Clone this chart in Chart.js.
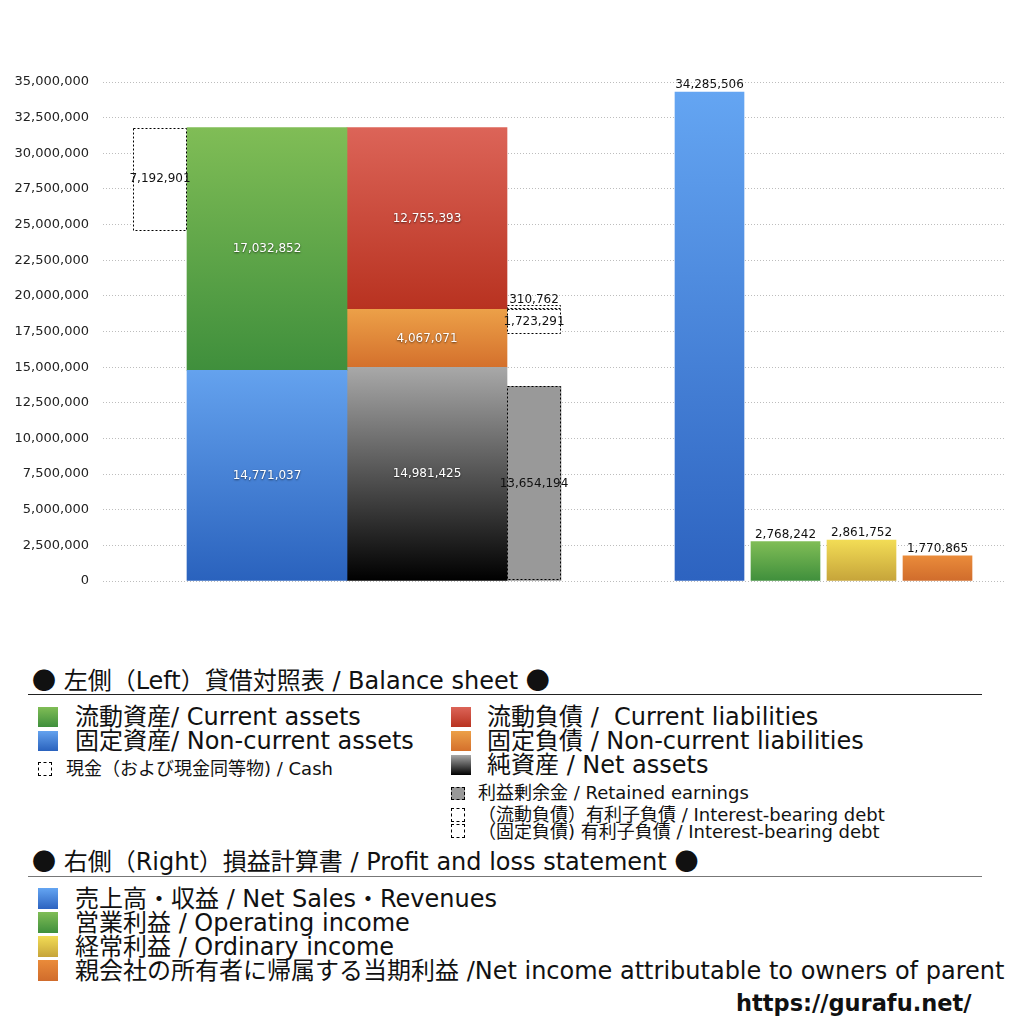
<!DOCTYPE html>
<html>
<head>
<meta charset="utf-8">
<script src="https://cdn.jsdelivr.net/npm/chart.js@4.4.1/dist/chart.umd.min.js"></script>
<style>
body{margin:0;background:#fff;}
#wrap{position:relative;width:1024px;height:1024px;overflow:hidden;font-family:"DejaVu Sans","Noto Sans CJK JP",sans-serif;color:#111;}
#c{position:absolute;left:0;top:0;}
.t{position:absolute;white-space:nowrap;}
.sq{position:absolute;}
.cj{font-family:"Noto Sans CJK JP";}
.big{font-size:24px;line-height:24px;height:24px;}
.small{font-size:18px;line-height:18px;height:18px;}
.ttl{font-size:24px;line-height:26px;height:26px;}
.rule{position:absolute;left:28px;width:954px;height:0;}
.dot{border:1px dashed #000;box-sizing:border-box;}
</style>
</head>
<body>
<div id="wrap">
<canvas id="c" width="1024" height="640"></canvas>

<div class="t ttl" style="left:32px;top:666px;"><span class="cj">●</span> 左側（Left）貸借対照表 / Balance sheet <span class="cj">●</span></div>
<div class="rule" style="top:694px;border-top:1px solid #222;"></div>

<div class="sq" style="left:38px;top:707px;width:20px;height:20px;background:linear-gradient(#80bd56,#3f8f3c);"></div>
<div class="t big" style="left:75px;top:705px;">流動資産/ Current assets</div>
<div class="sq" style="left:38px;top:731px;width:20px;height:20px;background:linear-gradient(#64a2ee,#2a62bd);"></div>
<div class="t big" style="left:75px;top:729px;">固定資産/ Non-current assets</div>
<div class="sq dot" style="left:38px;top:762px;width:14px;height:14px;"></div>
<div class="t small" style="left:66px;top:760px;">現金（および現金同等物) / Cash</div>

<div class="sq" style="left:451px;top:707px;width:20px;height:20px;background:linear-gradient(#dc6458,#b83220);"></div>
<div class="t big" style="left:487px;top:705px;">流動負債 /&nbsp; Current liabilities</div>
<div class="sq" style="left:451px;top:731px;width:20px;height:20px;background:linear-gradient(#eca048,#d4702c);"></div>
<div class="t big" style="left:487px;top:729px;">固定負債 / Non-current liabilities</div>
<div class="sq" style="left:451px;top:755px;width:20px;height:20px;background:linear-gradient(#a8a8a8,#000);"></div>
<div class="t big" style="left:487px;top:753px;">純資産 / Net assets</div>
<div class="sq dot" style="left:451px;top:787px;width:14px;height:13px;background:#999;"></div>
<div class="t small" style="left:478px;top:784px;">利益剰余金 / Retained earnings</div>
<div class="sq dot" style="left:451px;top:808px;width:14px;height:14px;"></div>
<div class="t small" style="left:478px;top:806px;">（流動負債）有利子負債 / Interest-bearing debt</div>
<div class="sq dot" style="left:451px;top:824px;width:14px;height:14px;"></div>
<div class="t small" style="left:478px;top:823px;">（固定負債) 有利子負債 / Interest-bearing debt</div>

<div class="t ttl" style="left:32px;top:847px;"><span class="cj">●</span> 右側（Right）損益計算書 / Profit and loss statement <span class="cj">●</span></div>
<div class="rule" style="top:876px;border-top:1px solid #777;"></div>

<div class="sq" style="left:38px;top:888px;width:20px;height:21px;background:linear-gradient(#64a5f2,#2d63c0);"></div>
<div class="t big" style="left:75px;top:887px;">売上高・収益 / Net Sales・Revenues</div>
<div class="sq" style="left:38px;top:912px;width:20px;height:21px;background:linear-gradient(#80bd56,#3f8f3c);"></div>
<div class="t big" style="left:75px;top:911px;">営業利益 / Operating income</div>
<div class="sq" style="left:38px;top:936px;width:20px;height:21px;background:linear-gradient(#f2dc55,#c6a43a);"></div>
<div class="t big" style="left:75px;top:935px;">経常利益 / Ordinary income</div>
<div class="sq" style="left:38px;top:960px;width:20px;height:21px;background:linear-gradient(#ea8b3a,#d06c2c);"></div>
<div class="t big" style="left:75px;top:959px;">親会社の所有者に帰属する当期利益 /Net income attributable to owners of parent</div>

<div class="t" style="left:736px;top:990px;font-size:22.5px;font-weight:bold;line-height:26px;">https://gurafu.net/</div>
</div>

<script>
// 左側 貸借対照表
var assetLabels = ['固定資産', '流動資産'];
var assetValues = [14771037, 17032852];
var liabLabels = ['純資産', '固定負債', '流動負債'];
var liabValues = [14981425, 4067071, 12755393];
var cashValue = 7192901;
var retainedValue = 13654194;
var debtLabels = ['（固定負債) 有利子負債', '（流動負債）有利子負債'];
var debtValues = [1723291, 310762];

// 右側 損益計算書
var plLabels = ['売上高・収益', '営業利益', '経常利益', '親会社の所有者に帰属する当期利益'];
var plValues = [34285506, 2768242, 2861752, 1770865];

var yMin = 0, yMax = 35000000, yStep = 2500000;

// column slots on the hidden linear x scale (c = centre, w = bar width px)
var slot = {
  cash: {c: 57, w: 54},
  assets: {c: 164, w: 160},
  liab: {c: 324, w: 160},
  retained: {c: 431, w: 54},
  pl: [{c: 606.5, w: 69}, {c: 682.5, w: 69}, {c: 758.5, w: 69}, {c: 834.5, w: 69}]
};

var colors = {
  ncAssets: ['#64a2ee', '#2a62bd'],
  cAssets: ['#80bd56', '#3f8f3c'],
  netAssets: ['#a8a8a8', '#000000'],
  ncLiab: ['#eca048', '#d4702c'],
  cLiab: ['#dc6458', '#b83220'],
  pl: [['#64a5f2', '#2d63c0'], ['#80bd56', '#3f8f3c'], ['#f2dc55', '#c6a43a'], ['#ea8b3a', '#d06c2c']]
};

var numFont = '"DejaVu Sans", "Noto Sans"';

function grad(pair) {
  return function(c) {
    var chart = c.chart;
    if (!chart.chartArea || !c.raw) return pair[1];
    var y = chart.scales.y;
    var g = chart.ctx.createLinearGradient(0, y.getPixelForValue(c.raw.y[1]), 0, y.getPixelForValue(c.raw.y[0]));
    g.addColorStop(0, pair[0]);
    g.addColorStop(1, pair[1]);
    return g;
  };
}

function bar(label, s, lo, hi, fill, extra) {
  var d = {
    label: label,
    data: [{x: s.c, y: [lo, hi]}],
    barThickness: s.w,
    backgroundColor: fill,
    borderWidth: 0,
    value: hi - lo,
    labelMode: 'in'
  };
  return Object.assign(d, extra || {});
}

var datasets = [];
var assetsTotal = assetValues[0] + assetValues[1];
datasets.push(bar(assetLabels[0], slot.assets, 0, assetValues[0], grad(colors.ncAssets)));
datasets.push(bar(assetLabels[1], slot.assets, assetValues[0], assetsTotal, grad(colors.cAssets)));
datasets.push(bar('現金', slot.cash, assetsTotal - cashValue, assetsTotal, '#ffffff', {dotted: true, labelMode: 'dark'}));

var lb = 0;
var liabColors = [colors.netAssets, colors.ncLiab, colors.cLiab];
var liabBase = [];
liabValues.forEach(function(v, i) {
  liabBase.push(lb);
  datasets.push(bar(liabLabels[i], slot.liab, lb, lb + v, grad(liabColors[i])));
  lb += v;
});
datasets.push(bar('利益剰余金', slot.retained, 0, retainedValue, '#999999', {dotted: true, labelMode: 'dark'}));
// interest-bearing debt boxes sit on the border between fixed and current liabilities
var border = liabBase[2];
datasets.push(bar(debtLabels[0], slot.retained, border - debtValues[0], border, '#ffffff', {dotted: true, labelMode: 'dark'}));
datasets.push(bar(debtLabels[1], slot.retained, border, border + debtValues[1], '#ffffff', {dotted: true, labelMode: 'dark', labelDy: -7}));

plValues.forEach(function(v, i) {
  datasets.push(bar(plLabels[i], slot.pl[i], 0, v, grad(colors.pl[i]), {labelMode: 'above'}));
});

var boxLabels = {
  id: 'boxLabels',
  afterDatasetsDraw: function(chart) {
    var ctx = chart.ctx;
    chart.data.datasets.forEach(function(ds, i) {
      var el = chart.getDatasetMeta(i).data[0];
      if (!el) return;
      var p = el.getProps(['x', 'y', 'base', 'width'], true);
      var top = Math.min(p.y, p.base), bottom = Math.max(p.y, p.base);
      ctx.save();
      if (ds.dotted) {
        ctx.strokeStyle = '#000';
        ctx.lineWidth = 1;
        ctx.setLineDash([2, 2]);
        ctx.strokeRect(Math.round(p.x - p.width / 2) + 0.5, Math.round(top) + 0.5, Math.round(p.width) - 1, Math.max(1, Math.round(bottom - top) - 1));
        ctx.setLineDash([]);
      }
      var txt = ds.value.toLocaleString('en-US');
      ctx.font = '12px ' + numFont;
      ctx.textAlign = 'center';
      if (ds.labelMode === 'above') {
        ctx.fillStyle = '#111';
        ctx.textBaseline = 'bottom';
        ctx.fillText(txt, p.x, top - 1);
      } else if (ds.labelMode === 'dark') {
        ctx.fillStyle = '#111';
        ctx.textBaseline = 'middle';
        ctx.fillText(txt, p.x, (top + bottom) / 2 + (ds.labelDy || 0));
      } else {
        ctx.fillStyle = '#fff';
        ctx.shadowColor = 'rgba(0,0,0,0.6)';
        ctx.shadowBlur = 2;
        ctx.shadowOffsetY = 1;
        ctx.textBaseline = 'middle';
        ctx.fillText(txt, p.x, (top + bottom) / 2);
      }
      ctx.restore();
    });
  }
};

new Chart(document.getElementById('c'), {
  type: 'bar',
  data: {datasets: datasets},
  options: {
    responsive: false,
    animation: false,
    grouped: false,
    layout: {padding: {top: 82, right: 19, bottom: 59, left: 0}},
    plugins: {legend: {display: false}, tooltip: {enabled: false}},
    scales: {
      x: {type: 'linear', min: 0, max: 902, display: false, offset: false},
      y: {
        min: yMin,
        max: yMax,
        afterFit: function(scale) { scale.width = 103; },
        ticks: {
          stepSize: yStep,
          padding: 14,
          color: '#222',
          font: {family: numFont, size: 13},
          callback: function(v) { return v.toLocaleString('en-US'); }
        },
        grid: {color: '#bdbdbd', drawTicks: false, lineWidth: 1},
        border: {display: false, dash: [1, 2]}
      }
    }
  },
  plugins: [boxLabels]
});
</script>
</body>
</html>
